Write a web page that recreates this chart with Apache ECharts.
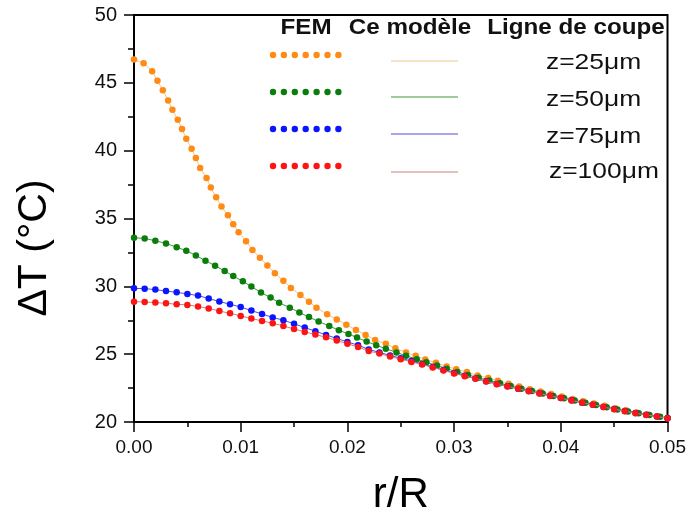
<!DOCTYPE html>
<html><head><meta charset="utf-8">
<script src="https://cdn.jsdelivr.net/npm/echarts@6/dist/echarts.min.js"></script>
<style>html,body{margin:0;padding:0;background:#fff}#c{width:689px;height:521px}</style>
</head><body><div id="c"></div>
<script>
// r/R and ΔT values
const r25 = [0,0.0009,0.0017,0.0022,0.0027,0.0032,0.0036,0.0041,0.0045,0.0049,0.0054,0.0058,0.0062,0.0068,0.0072,0.0077,0.0082,0.0088,0.0093,0.0098,0.0105,0.0111,0.0118,0.0125,0.0132,0.0140,0.0147,0.0156,0.0164,0.0171,0.0181,0.0190,0.0199,0.0208,0.0217,0.0226,0.0236,0.0245,0.0255,0.0264,0.0273,0.0283,0.0293,0.0302,0.0312,0.0322,0.0332,0.0341,0.0351,0.0361,0.0371,0.0381,0.0391,0.0401,0.0411,0.0421,0.0431,0.0441,0.0451,0.0461,0.0471,0.0481,0.0491,0.0500];
const t25 = [46.72,46.45,45.86,45.15,44.46,43.70,43.01,42.28,41.60,40.88,40.15,39.46,38.73,37.99,37.28,36.57,35.88,35.24,34.58,33.99,33.33,32.67,32.11,31.54,30.96,30.42,29.88,29.36,28.87,28.43,27.94,27.56,27.17,26.79,26.42,26.05,25.76,25.44,25.12,24.88,24.61,24.36,24.10,23.88,23.68,23.43,23.24,23.04,22.82,22.62,22.42,22.24,22.06,21.88,21.70,21.53,21.36,21.19,21.02,20.86,20.70,20.55,20.40,20.27];
const r50 = [0,0.001,0.002,0.003,0.004,0.0049,0.0058,0.0067,0.0076,0.0085,0.0093,0.0102,0.0110,0.0119,0.0128,0.0136,0.0146,0.0155,0.0164,0.0173,0.0183,0.0192,0.0201,0.0209,0.0218,0.0227,0.0236,0.0246,0.0255,0.0265,0.0274,0.0284,0.0293,0.0303,0.0313,0.0323,0.0333,0.0343,0.0353,0.0363,0.0373,0.0383,0.0393,0.0403,0.0413,0.0423,0.0433,0.0443,0.0453,0.0463,0.0473,0.0483,0.0493,0.0500];
const t50 = [33.58,33.53,33.36,33.16,32.89,32.62,32.28,31.89,31.52,31.13,30.76,30.37,29.98,29.55,29.17,28.79,28.43,28.07,27.74,27.40,27.08,26.76,26.49,26.22,25.93,25.66,25.40,25.13,24.88,24.63,24.40,24.16,23.93,23.69,23.47,23.26,23.05,22.85,22.65,22.46,22.28,22.10,21.92,21.75,21.58,21.41,21.25,21.09,20.93,20.78,20.64,20.51,20.38,20.29];
const r75 = [0,0.001,0.002,0.003,0.004,0.005,0.006,0.007,0.008,0.009,0.010,0.011,0.012,0.013,0.014,0.015,0.016,0.017,0.018,0.019,0.020,0.021,0.022,0.023,0.024,0.025,0.026,0.027,0.028,0.029,0.030,0.031,0.032,0.033,0.034,0.035,0.036,0.037,0.038,0.039,0.040,0.041,0.042,0.043,0.044,0.045,0.046,0.047,0.048,0.049,0.050];
const t75 = [29.85,29.83,29.76,29.65,29.56,29.44,29.32,29.10,28.88,28.68,28.48,28.21,27.96,27.71,27.50,27.24,26.96,26.69,26.42,26.16,25.90,25.66,25.35,25.13,24.91,24.70,24.49,24.28,24.06,23.84,23.62,23.41,23.21,23.00,22.81,22.63,22.46,22.28,22.11,21.93,21.77,21.60,21.42,21.28,21.11,20.95,20.81,20.66,20.53,20.41,20.28];
const r100 = [0,0.001,0.002,0.003,0.004,0.005,0.006,0.007,0.008,0.009,0.010,0.011,0.012,0.013,0.014,0.015,0.016,0.017,0.018,0.019,0.020,0.021,0.022,0.023,0.024,0.025,0.026,0.027,0.028,0.029,0.030,0.031,0.032,0.033,0.034,0.035,0.036,0.037,0.038,0.039,0.040,0.041,0.042,0.043,0.044,0.045,0.046,0.047,0.048,0.049,0.050];
const t100 = [28.87,28.85,28.80,28.75,28.68,28.63,28.52,28.37,28.18,28.01,27.82,27.63,27.45,27.28,27.08,26.86,26.64,26.45,26.24,26.01,25.77,25.53,25.24,25.04,24.82,24.63,24.43,24.23,24.02,23.80,23.58,23.38,23.19,22.98,22.79,22.62,22.45,22.27,22.10,21.92,21.76,21.59,21.41,21.27,21.10,20.94,20.80,20.65,20.52,20.40,20.28];

const labels = ['z=25μm','z=50μm','z=75μm','z=100μm'];
const headers = ['FEM','Ce modèle','Ligne de coupe'];
const xTitle = 'r/R';
const yTitle = 'ΔT (°C)';

const markerColors = ['#ff8a14','#0b7d0b','#0a14ff','#ff1414'];
const lineColors = ['#ecc590','#3a9a3a','#5050d0','#cc7f7f'];
const xs = [r25,r50,r75,r100], ys = [t25,t50,t75,t100];

const font = 'Liberation Sans, Arial, sans-serif';
const series = xs.map((xa,i)=>({
  type:'line', name:labels[i],
  data: xa.map((x,j)=>[x, ys[i][j]]),
  symbol:'circle', symbolSize:6.5, showSymbol:true,
  itemStyle:{color:markerColors[i]},
  lineStyle:{color:lineColors[i], width:1},
  animation:false, z:2+i
}));

const graphic = [];
const hdrX = [306, 410, 576];
headers.forEach((h,i)=>graphic.push({type:'text', x:hdrX[i], y:28, scaleX:1.1,
  style:{text:h, fontFamily:font, fontWeight:'bold', fontSize:22, fill:'#111', align:'center', verticalAlign:'middle'}}));
const rowDotY = [55,92,129,166], rowLineY = [61,97,134,172], rowTextY = [63,100,137,172], rowTextX=[546,546,546,549];
labels.forEach((lab,i)=>{
  for(let k=0;k<7;k++) graphic.push({type:'circle', shape:{cx:273+k*10.9, cy:rowDotY[i], r:3.2}, style:{fill:markerColors[i]}});
  graphic.push({type:'line', shape:{x1:391,y1:rowLineY[i],x2:458,y2:rowLineY[i]}, style:{stroke:lineColors[i], lineWidth:1.2}});
  graphic.push({type:'text', x:rowTextX[i], y:rowTextY[i], scaleX:1.2, style:{text:lab, fontFamily:font, fontSize:22, fill:'#111', align:'left', verticalAlign:'middle'}});
});
graphic.push({type:'text', x:35, y:248, rotation:Math.PI/2,
  style:{text:yTitle, fontFamily:font, fontSize:41, fill:'#000', align:'center', verticalAlign:'middle'}});

const chart = echarts.init(document.getElementById('c'));
chart.setOption({
  backgroundColor:'#fff',
  animation:false,
  grid:{left:134, right:20, top:15, bottom:97, show:true, borderColor:'#000', borderWidth:2, backgroundColor:'transparent'},
  xAxis:{type:'value', min:0, max:0.05, interval:0.01,
    name:xTitle, nameLocation:'middle', nameGap:52,
    nameTextStyle:{fontFamily:font, fontSize:42, color:'#000'},
    axisLine:{lineStyle:{color:'#000', width:2}},
    axisTick:{length:10, lineStyle:{color:'#000', width:1.5}},
    minorTick:{show:true, splitNumber:2, length:5, lineStyle:{color:'#000', width:1.5}},
    splitLine:{show:false},
    axisLabel:{fontFamily:font, fontSize:19, color:'#111', margin:16, formatter:v=>v.toFixed(2)}
  },
  yAxis:{type:'value', min:20, max:50, interval:5,
    axisLine:{show:true, lineStyle:{color:'#000', width:2}},
    axisTick:{show:true, length:10, lineStyle:{color:'#000', width:1.5}},
    minorTick:{show:true, splitNumber:2, length:6, lineStyle:{color:'#000', width:1.5}},
    splitLine:{show:false},
    axisLabel:{fontFamily:font, fontSize:20, color:'#111', margin:17}
  },
  series: series,
  graphic: graphic
});
</script></body></html>
